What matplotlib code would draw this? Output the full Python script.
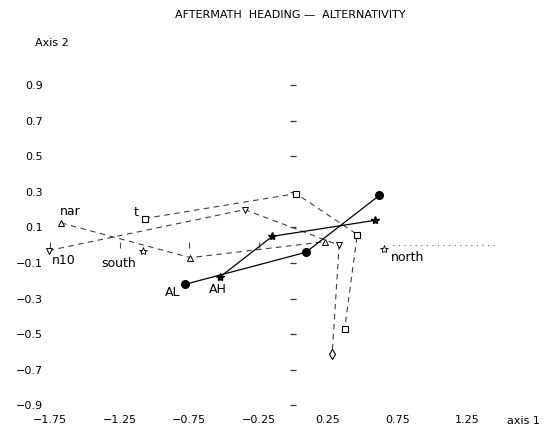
import matplotlib
matplotlib.use('Agg')
import matplotlib.pyplot as plt

# trajectories
circle_x = [-0.78, 0.09, 0.62]
circle_y = [-0.22, -0.04, 0.28]
star_x = [-0.53, -0.15, 0.59]
star_y = [-0.18, 0.05, 0.14]
square_x = [-1.07, 0.02, 0.46, 0.37]
square_y = [0.15, 0.29, 0.06, -0.47]
tdown_x = [-1.76, -0.35, 0.33, 0.28]
tdown_y = [-0.03, 0.20, 0.00, -0.61]
tup_x = [-1.67, -0.74, 0.23]
tup_y = [0.125, -0.07, 0.02]
supp_names = ['south', 'north']
supp_x = [-1.08, 0.65]
supp_y = [-0.03, -0.02]

xticks = [-1.75, -1.25, -0.75, -0.25, 0.25, 0.75, 1.25]
xtick_labels = ['\u22121.75', '\u22121.25', '\u22120.75', '\u22120.25', '0.25', '0.75', '1.25']
yticks = [0.9, 0.7, 0.5, 0.3, 0.1, -0.1, -0.3, -0.5, -0.7, -0.9]
ytick_labels = ['0.9', '0.7', '0.5', '0.3', '0.1', '\u22120.1', '\u22120.3', '\u22120.5', '\u22120.7', '\u22120.9']

plt.rcParams['font.family'] = ['DejaVu Sans']
fig = plt.figure(figsize=(5.6, 4.33), dpi=100)
W, H = 560, 433
ax = fig.add_axes([46 / W, 1 - 412 / H, 1 - 46 / W, 412 / H])
ax.set_xlim(-1.779, 1.919)
ax.set_ylim(-0.937, 1.3775)
for s in ax.spines.values():
    s.set_visible(False)

ax.set_xticks(xticks)
ax.set_xticklabels(xtick_labels, fontsize=8)
ax.set_yticks(yticks)
ax.set_yticklabels(ytick_labels, fontsize=8)
ax.tick_params(length=0, pad=2)

# axes through the origin: tick dashes and a dotted stretch
ax.plot(xticks[:4], [0] * 4, ls='none', marker='|', ms=5, color='0.3', mew=0.8)
ax.plot([0.72, 1.45], [0, 0], ls=(0, (1, 4)), color='0.4', lw=0.8)
ax.plot([0] * len(yticks), yticks, ls='none', marker='_', ms=5, color='0.2', mew=0.9)

dash = (0, (5, 4))
ax.plot(square_x, square_y, ls=dash, color='0.25', lw=0.8, marker='s', ms=4.5,
        mfc='white', mec='black', mew=0.8)
ax.plot(tdown_x, tdown_y, ls=dash, color='0.25', lw=0.8, marker='v', ms=4,
        mfc='white', mec='black', mew=0.7, markevery=[0, 1, 2], clip_on=False)
ax.plot(tdown_x[-1:], tdown_y[-1:], ls='none', marker='d', ms=5,
        mfc='white', mec='black', mew=0.8)
ax.plot(tup_x, tup_y, ls=dash, color='0.25', lw=0.8, marker='^', ms=4,
        mfc='white', mec='black', mew=0.7)
ax.plot(circle_x, circle_y, color='black', lw=0.9, marker='o', ms=5.5)
ax.plot(star_x, star_y, color='black', lw=0.9, marker='*', ms=6)
ax.plot(supp_x, supp_y, ls='none', marker='*', ms=6, mfc='white', mec='black', mew=0.6)

lab = dict(fontsize=9, color='black')
ax.text(tup_x[0] - 0.01, tup_y[0] + 0.03, 'nar', ha='left', va='bottom', **lab)
ax.text(square_x[0] - 0.04, square_y[0] + 0.0, 't', ha='right', va='bottom', **lab)
ax.text(tdown_x[0] + 0.02, tdown_y[0] - 0.02, 'n10', ha='left', va='top', **lab)
ax.text(supp_x[0] - 0.05, supp_y[0] - 0.035, supp_names[0], ha='right', va='top', **lab)
ax.text(supp_x[1] + 0.05, supp_y[1] - 0.01, supp_names[1], ha='left', va='top', **lab)
ax.text(circle_x[0] - 0.03, circle_y[0] - 0.01, 'AL', ha='right', va='top', **lab)
ax.text(star_x[0] - 0.08, star_y[0] - 0.03, 'AH', ha='left', va='top', **lab)

ax.text(1.653, -0.9 - 0.085, 'axis 1', ha='center', va='center', fontsize=8)
fig.text(35 / W, 1 - 43 / H, 'Axis 2', ha='left', va='center', fontsize=8)
fig.text(290 / W, 1 - 15 / H, 'AFTERMATH  HEADING \u2014  ALTERNATIVITY',
         ha='center', va='center', fontsize=8)

fig.savefig('out.png', dpi=100)
